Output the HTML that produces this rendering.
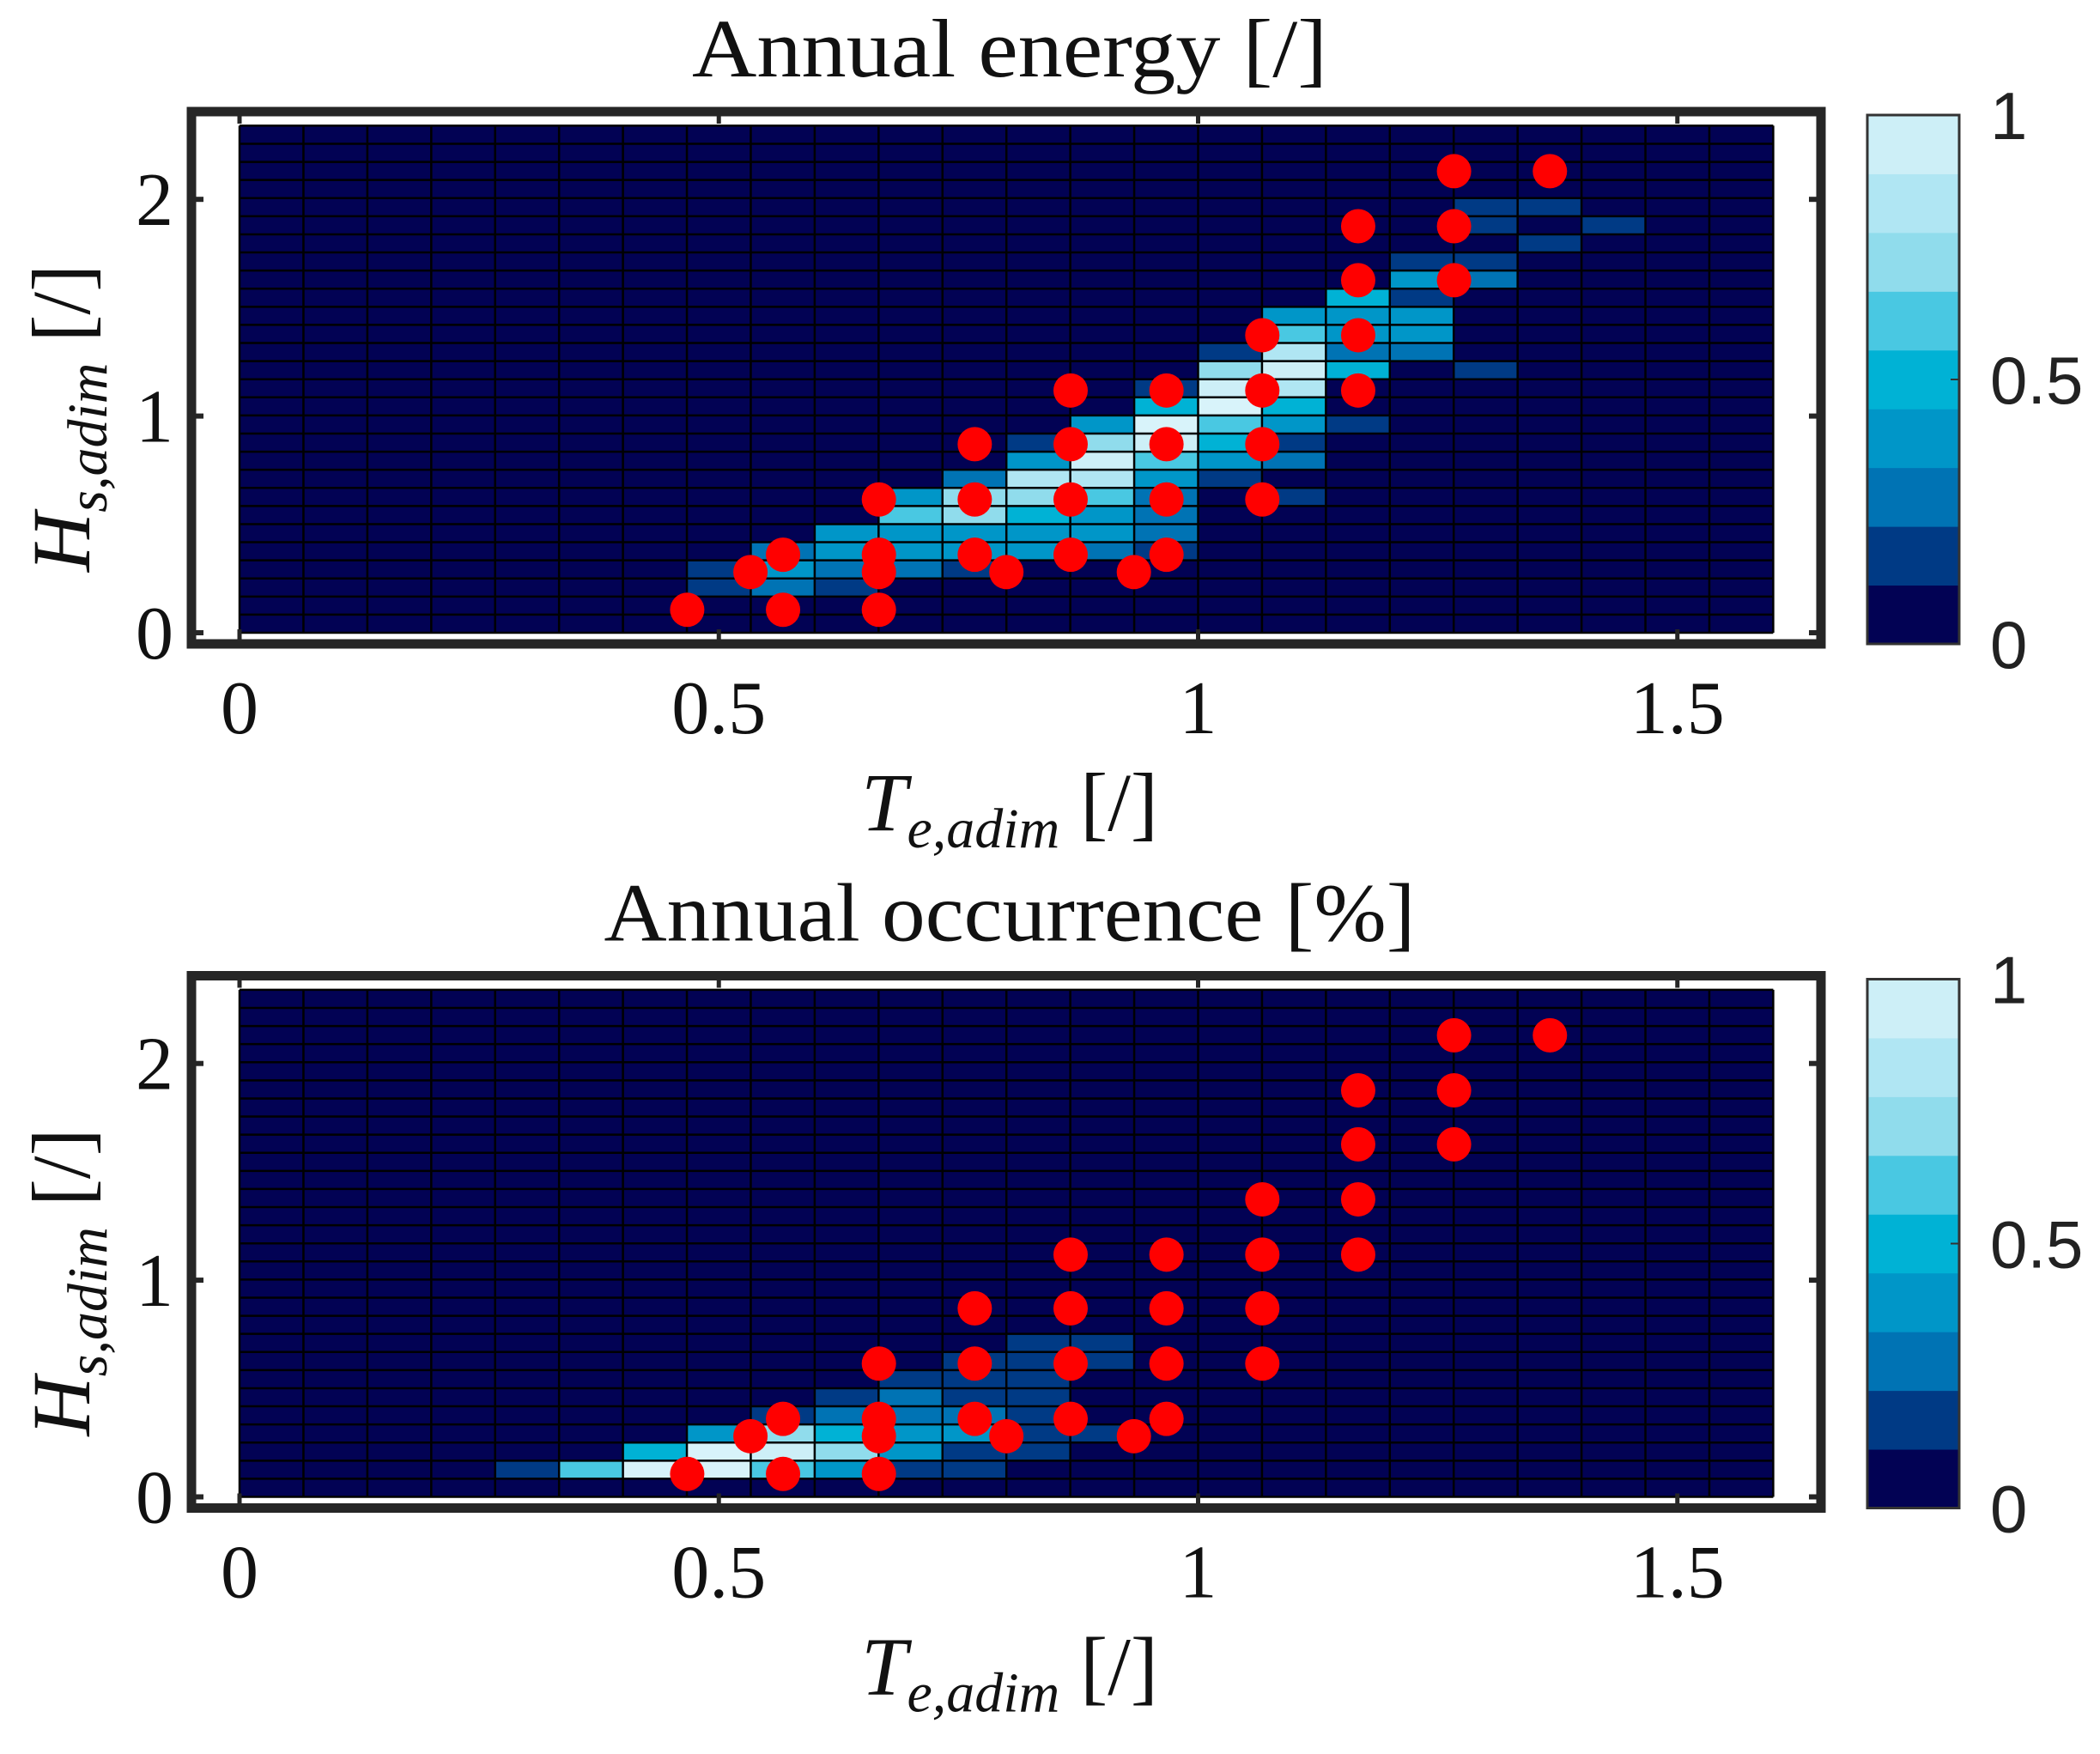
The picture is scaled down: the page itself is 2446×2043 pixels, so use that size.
<!DOCTYPE html>
<html><head><meta charset="utf-8"><style>
html,body{margin:0;padding:0;background:#fff;width:2446px;height:2043px;overflow:hidden}
svg{display:block}
.ser{font-family:"Liberation Serif",serif;fill:#111}
.san{font-family:"Liberation Sans",sans-serif;fill:#222}
</style></head><body>
<svg id="chart" width="2446" height="2043" viewBox="0 0 2446 2043"></svg>
<script>
const levelColors = ["#020254","#003a85","#0073b4","#0096c8","#00b2d5","#49c8e2","#90dcec","#b0e6f3","#cdeff7","#d8f3fa"];
const nCols = 24, nRows = 28;
const xTicks = [0, 0.5, 1, 1.5];
const xTickLabels = ["0", "0.5", "1", "1.5"];
const yTicks = [0, 1, 2];
const yTickLabels = ["0", "1", "2"];
const cbTickLabels = ["0", "0.5", "1"];
const titles = ["Annual energy [/]", "Annual occurrence [%]"];
// cells: [col,row,level]
const energyCells = [
[7,2,1],[8,2,2],[9,2,1],
[7,3,1],[8,3,3],[9,3,2],[10,3,2],[11,3,1],
[8,4,2],[9,4,3],[10,4,3],[11,4,3],[12,4,3],[13,4,2],[14,4,1],
[9,5,3],[10,5,3],[11,5,3],[12,5,3],[13,5,3],[14,5,2],
[10,6,5],[11,6,6],[12,6,4],[13,6,3],[14,6,2],
[10,7,3],[11,7,6],[12,7,6],[13,7,5],[14,7,2],[16,7,1],
[11,8,2],[12,8,7],[13,8,7],[14,8,3],[15,8,1],
[12,9,3],[13,9,8],[14,9,5],[15,9,3],[16,9,2],
[12,10,1],[13,10,6],[14,10,8],[15,10,4],[16,10,1],
[13,11,3],[14,11,9],[15,11,5],[16,11,3],[17,11,1],
[14,12,4],[15,12,9],[16,12,4],
[14,13,1],[15,13,8],[16,13,7],
[15,14,6],[16,14,8],[17,14,4],[19,14,1],
[15,15,1],[16,15,7],[17,15,2],[18,15,2],
[16,16,5],[17,16,3],[18,16,3],
[16,17,3],[17,17,3],[18,17,3],
[17,18,4],[18,18,1],
[18,19,3],[19,19,2],
[18,20,1],[19,20,1],
[20,21,1],
[19,22,1],[21,22,1],
[19,23,1],[20,23,1]];
const occCells = [
[4,1,1],[5,1,5],[6,1,9],[7,1,9],[8,1,5],[9,1,3],[10,1,1],[11,1,1],
[6,2,4],[7,2,9],[8,2,8],[9,2,6],[10,2,3],[11,2,1],[12,2,1],
[7,3,3],[8,3,6],[9,3,4],[10,3,3],[11,3,3],[12,3,1],[13,3,1],
[8,4,1],[9,4,2],[10,4,2],[11,4,2],[12,4,1],
[9,5,1],[10,5,2],[11,5,1],[12,5,1],
[10,6,1],[11,6,1],[12,6,1],
[11,7,1],[12,7,1],[13,7,1],
[12,8,1],[13,8,1]];
const pointsX = [0.467,0.567,0.667,0.533,0.667,0.8,0.933,0.567,0.667,0.767,0.867,0.967,0.667,0.767,0.867,0.967,1.067,0.767,0.867,0.967,1.067,0.867,0.967,1.067,1.167,1.067,1.167,1.167,1.267,1.167,1.267,1.267,1.367];
const pointsY = [0.106,0.106,0.106,0.28,0.28,0.28,0.28,0.36,0.36,0.36,0.36,0.36,0.615,0.615,0.615,0.615,0.615,0.87,0.87,0.87,0.87,1.118,1.118,1.118,1.118,1.373,1.373,1.627,1.627,1.876,1.876,2.13,2.13];

const NS="http://www.w3.org/2000/svg";
const svg=document.getElementById('chart');
function mk(tag,attrs,parent){const e=document.createElementNS(NS,tag);for(const k in attrs)e.setAttribute(k,attrs[k]);(parent||svg).appendChild(e);return e;}

const XMAX=1.6, YMAX=2.34;
function drawPanel(idx, cells, y0){
  const g=mk('g',{});
  
  
  const sx=v=>279+v*1116.5;
  const sy=v=>y0-v*252.4;
  const fr=mk('rect',{x:223,y:y0-607,width:1898,height:620,fill:'#fff',stroke:'#262626','stroke-width':11},g);
  
  
  const cw=XMAX/nCols, rh=YMAX/nRows;
  const bg=mk('rect',{x:sx(0),y:sy(YMAX),width:sx(XMAX)-sx(0),height:sy(0)-sy(YMAX),fill:levelColors[0]},g);
  
  
  for(const c of cells){
    const r=mk('rect',{x:sx(c[0]*cw),y:sy((c[1]+1)*rh),width:sx(cw)-sx(0),height:sy(0)-sy(rh),fill:levelColors[c[2]]},g);
    
    
  }
  let d='';
  for(let i=0;i<=nCols;i++){const x=sx(i*cw);d+=`M${x} ${sy(YMAX)}V${sy(0)}`;}
  for(let j=0;j<=nRows;j++){const y=sy(j*rh);d+=`M${sx(0)} ${y}H${sx(XMAX)}`;}
  const gl=mk('path',{d:d,stroke:'#000','stroke-width':2.5,fill:'none'},g);
  
  
  xTicks.forEach((t,i)=>{
    mk('line',{x1:sx(t),x2:sx(t),y1:y0+10,y2:y0-4,stroke:'#262626','stroke-width':5},g);
    mk('line',{x1:sx(t),x2:sx(t),y1:y0-607,y2:y0-593,stroke:'#262626','stroke-width':5},g);
    const tx=mk('text',{x:sx(t),y:y0+117,'text-anchor':'middle','font-size':88,class:'ser'},g);
    tx.textContent=xTickLabels[i];
    
    
  });
  yTicks.forEach((t,i)=>{
    mk('line',{x1:223,x2:237,y1:sy(t),y2:sy(t),stroke:'#262626','stroke-width':6},g);
    mk('line',{x1:2107,x2:2121,y1:sy(t),y2:sy(t),stroke:'#262626','stroke-width':6},g);
    const tx=mk('text',{x:202,y:sy(t)+30,'text-anchor':'end','font-size':88,class:'ser'},g);
    tx.textContent=yTickLabels[i];
    
    
  });
  pointsX.forEach((px,i)=>{
    const c=mk('circle',{cx:sx(px),cy:sy(pointsY[i]),r:20,fill:'#ff0000'},g);
    
    
  });
  const tt=mk('text',{x:1176,y:y0-648,'text-anchor':'middle','font-size':96,class:'ser',textLength:740,lengthAdjust:'spacingAndGlyphs'},g);
  tt.textContent=titles[idx];
  if(idx===1) tt.setAttribute('textLength','945');
  
  
  const xl=mk('text',{x:1176,y:y0+230,'text-anchor':'middle','font-size':96,class:'ser'},g);
  xl.innerHTML='<tspan font-style="italic">T</tspan><tspan font-style="italic" font-size="66" dy="20">e,adim</tspan><tspan dy="-20">  [/]</tspan>';
  
  
  const yl=mk('text',{x:0,y:0,'text-anchor':'middle','font-size':96,class:'ser',transform:`translate(104,${y0-250}) rotate(-90)`},g);
  yl.innerHTML='<tspan font-style="italic">H</tspan><tspan font-style="italic" font-size="66" dy="20">s,adim</tspan><tspan dy="-20">  [/]</tspan>';
  
  
  const cb=mk('g',{},g);
  
  
  const top=y0-603, bot=y0+13, bh=(bot-top)/9;
  for(let k=0;k<9;k++){
    mk('rect',{x:2175,y:bot-(k+1)*bh,width:107,height:bh+0.5,fill:levelColors[k]},cb);
  }
  mk('rect',{x:2175,y:top,width:107,height:bot-top,fill:'none',stroke:'#333','stroke-width':3},cb);
  mk('line',{x1:2272,x2:2282,y1:(top+bot)/2,y2:(top+bot)/2,stroke:'#333','stroke-width':2},cb);
  [bot,(top+bot)/2,top].forEach((yy,i)=>{
    const t=mk('text',{x:2318,y:yy+28,'font-size':78,class:'san'},cb);
    t.textContent=cbTickLabels[i];
    
    
  });
}
drawPanel(0, energyCells, 737);
drawPanel(1, occCells, 1743.5);
</script>
</body></html>
